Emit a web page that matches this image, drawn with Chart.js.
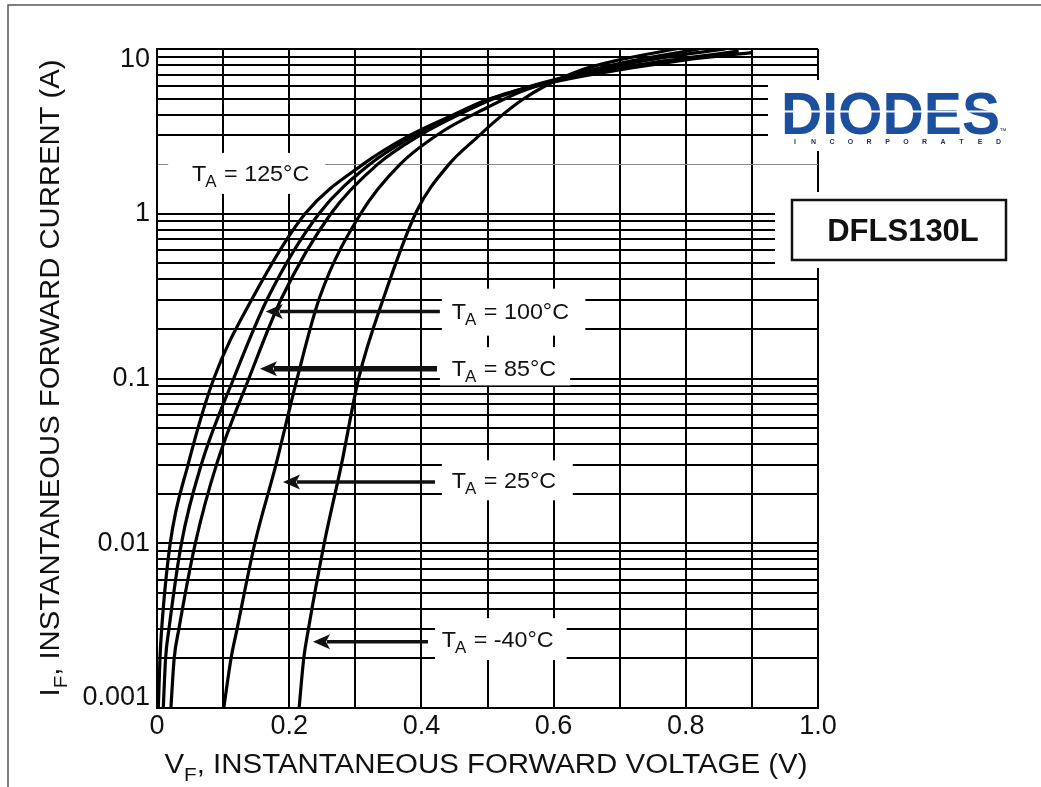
<!DOCTYPE html>
<html>
<head>
<meta charset="utf-8">
<script src="https://cdn.jsdelivr.net/npm/chart.js@4.4.1/dist/chart.umd.min.js"></script>
<style>
  html, body { margin: 0; padding: 0; background: #fff; }
</style>
</head>
<body>
<canvas id="fwdChart" width="1041" height="787"></canvas>
<script>
// forward voltage (V) and current (A)
const v125 = [0.002, 0.0045, 0.007, 0.020, 0.047, 0.086, 0.145, 0.224, 0.312, 0.383, 0.443, 0.499, 0.57, 0.65, 0.80, 0.90];
const i125 = [0.001, 0.002, 0.003, 0.01, 0.03, 0.1, 0.31, 1.0, 2.0, 3.0, 3.9, 4.9, 5.9, 6.9, 8.6, 9.5];

const v100 = [0.0095, 0.013, 0.018, 0.037, 0.067, 0.116, 0.168, 0.245, 0.322, 0.39, 0.451, 0.505, 0.575, 0.66, 0.78, 0.88];
const i100 = [0.001, 0.002, 0.003, 0.01, 0.03, 0.1, 0.31, 1.0, 2.0, 3.0, 4.0, 5.0, 6.05, 7.2, 8.6, 9.7];

const v85 = [0.021, 0.026, 0.033, 0.058, 0.090, 0.139, 0.189, 0.263, 0.334, 0.398, 0.457, 0.51, 0.575, 0.66, 0.76, 0.86];
const i85 = [0.001, 0.002, 0.003, 0.01, 0.03, 0.1, 0.31, 1.0, 2.0, 3.0, 4.0, 5.0, 6.1, 7.4, 8.8, 10.0];

const v25 = [0.101, 0.112, 0.121, 0.148, 0.18, 0.212, 0.246, 0.308, 0.368, 0.433, 0.499, 0.55, 0.62, 0.72, 0.82];
const i25 = [0.001, 0.002, 0.003, 0.01, 0.03, 0.1, 0.31, 1.0, 2.0, 3.18, 4.4, 5.5, 6.8, 8.5, 10.0];

const vM40 = [0.215, 0.222, 0.229, 0.253, 0.279, 0.305, 0.343, 0.393, 0.441, 0.484, 0.52, 0.552, 0.585, 0.64, 0.70, 0.79];
const iM40 = [0.001, 0.002, 0.003, 0.01, 0.03, 0.1, 0.31, 1.04, 1.98, 2.9, 3.9, 4.9, 5.9, 7.4, 8.6, 10.1];

const seriesNames = ['125°C', '100°C', '85°C', '25°C', '-40°C'];

const xTickLabels = ['0', '0.2', '0.4', '0.6', '0.8', '1.0'];
const yDecades = [0.001, 0.01, 0.1, 1, 10];
const yTickLabels = ['0.001', '0.01', '0.1', '1', '10'];

// log grid: 1..9 in every decade
const yGrid = [];
for (let d = 0; d < yDecades.length - 1; d++) {
    for (let m = 1; m < 10; m++) yGrid.push(+(yDecades[d] * m).toPrecision(3));
}
yGrid.push(10);

const FONT = '"Liberation Sans", Arial, Helvetica, sans-serif';

// label boxes and arrows, placed in data units (V, A)
const notes = [
    { name: seriesNames[0], v: 0.053, i: 1.585, box: [0.017, 0.254, 1.32, 2.34] },
    { name: seriesNames[1], v: 0.446, i: 0.231, box: [0.431, 0.648, 0.182, 0.351], arrow: [0.428, 0.1645, 0.2547], lw: 3.5 },
    { name: seriesNames[2], v: 0.446, i: 0.104, box: [0.428, 0.625, 0.0908, 0.155], arrow: [0.4236, 0.1558, 0.1146], lw: 5.5 },
    { name: seriesNames[3], v: 0.446, i: 0.02176, box: [0.431, 0.629, 0.01823, 0.03186], arrow: [0.4206, 0.1906, 0.02352], lw: 3.5 },
    { name: seriesNames[4], v: 0.4307, i: 0.002351, box: [0.4206, 0.6198, 0.001954, 0.00351], arrow: [0.41, 0.236, 0.002522], lw: 3.5 }
];

function pairUp(vs, is) {
    return vs.map((v, k) => ({ x: v, y: is[k] }));
}

function drawTA(ctx, x, y, rest, size) {
    ctx.save();
    ctx.translate(x, y);
    ctx.scale(1.06, 1);
    ctx.textAlign = 'left';
    ctx.textBaseline = 'alphabetic';
    ctx.font = size + 'px ' + FONT;
    ctx.fillText('T', 0, 0);
    let w = ctx.measureText('T').width;
    ctx.font = Math.round(size * 0.72) + 'px ' + FONT;
    ctx.fillText('A', w - 1, size * 0.3);
    w += ctx.measureText('A').width;
    ctx.font = size + 'px ' + FONT;
    ctx.fillText(rest, w, 0);
    ctx.restore();
}

function drawArrow(ctx, x0, x1, y, lw) {
    const head = 17, half = 7.5;
    ctx.lineWidth = lw;
    ctx.beginPath();
    ctx.moveTo(x0, y);
    ctx.lineTo(x1 + head - 3, y);
    ctx.stroke();
    ctx.beginPath();
    ctx.moveTo(x1, y);
    ctx.lineTo(x1 + head, y - half);
    ctx.lineTo(x1 + head - 4, y);
    ctx.lineTo(x1 + head, y + half);
    ctx.closePath();
    ctx.fill();
}

// axis title with a subscript after the first letter, centred on (0,0), stretched to a width
function drawSubTitle(ctx, first, sub, rest, size, width) {
    const subSize = Math.round(size * 0.72);
    ctx.font = size + 'px ' + FONT;
    const w1 = ctx.measureText(first).width;
    const w3 = ctx.measureText(rest).width;
    ctx.font = subSize + 'px ' + FONT;
    const w2 = ctx.measureText(sub).width;
    const total = w1 + w2 + w3;
    ctx.scale(width / total, 1);
    const x = -total / 2;
    ctx.textAlign = 'left';
    ctx.textBaseline = 'alphabetic';
    ctx.font = size + 'px ' + FONT;
    ctx.fillText(first, x, 0);
    ctx.font = subSize + 'px ' + FONT;
    ctx.fillText(sub, x + w1, size * 0.3);
    ctx.font = size + 'px ' + FONT;
    ctx.fillText(rest, x + w1 + w2, 0);
}

const decorPlugin = {
    id: 'decor',
    beforeDatasetsDraw(chart) {
        const ctx = chart.ctx;
        const xs = chart.scales.x, ys = chart.scales.y;
        ctx.save();
        ctx.fillStyle = '#fff';
        notes.forEach(n => {
            const x0 = xs.getPixelForValue(n.box[0]), x1 = xs.getPixelForValue(n.box[1]);
            const y0 = ys.getPixelForValue(n.box[3]), y1 = ys.getPixelForValue(n.box[2]);
            ctx.fillRect(x0, y0, x1 - x0, y1 - y0);
        });
        // blank areas behind the logo and the part number
        ctx.fillRect(768, 80, 245, 71);
        ctx.fillRect(775, 192, 240, 76);
        ctx.restore();
    },
    afterDatasetsDraw(chart) {
        const ctx = chart.ctx;
        const xs = chart.scales.x, ys = chart.scales.y;
        ctx.save();
        ctx.fillStyle = '#111';
        ctx.strokeStyle = '#111';
        notes.forEach(n => {
            drawTA(ctx, xs.getPixelForValue(n.v), ys.getPixelForValue(n.i), ' = ' + n.name, 22);
            if (n.arrow) {
                drawArrow(ctx, xs.getPixelForValue(n.arrow[0]), xs.getPixelForValue(n.arrow[1]),
                    ys.getPixelForValue(n.arrow[2]), n.lw);
            }
        });

        // axis titles
        ctx.save();
        ctx.translate(486, 773);
        drawSubTitle(ctx, 'V', 'F', ', INSTANTANEOUS FORWARD VOLTAGE (V)', 27, 643);
        ctx.restore();
        ctx.save();
        ctx.translate(59, 378);
        ctx.rotate(-Math.PI / 2);
        drawSubTitle(ctx, 'I', 'F', ', INSTANTANEOUS FORWARD CURRENT (A)', 27, 637);
        ctx.restore();

        // logo
        ctx.fillStyle = '#1c4f9e';
        ctx.font = 'bold 60px ' + FONT;
        ctx.textAlign = 'left';
        ctx.textBaseline = 'alphabetic';
        const lw = ctx.measureText('DIODES').width;
        ctx.save();
        ctx.translate(781, 134);
        ctx.scale(219 / lw, 1);
        ctx.fillText('DIODES', 0, 0);
        ctx.restore();
        ctx.fillStyle = '#fff';
        ctx.fillRect(781, 110.5, 220, 2);
        ctx.fillStyle = '#1c2d5a';
        ctx.font = 'bold 7px ' + FONT;
        ctx.textAlign = 'center';
        'INCORPORATED'.split('').forEach((ch, k) => ctx.fillText(ch, 795 + k * 18.5, 144));
        ctx.font = '7px ' + FONT;
        ctx.fillText('\u2122', 1003, 133);

        // part number box
        ctx.strokeStyle = '#111';
        ctx.lineWidth = 2.5;
        ctx.strokeRect(792, 200, 214, 60);
        ctx.fillStyle = '#111';
        ctx.font = 'bold 31px ' + FONT;
        ctx.textAlign = 'center';
        ctx.textBaseline = 'alphabetic';
        ctx.fillText('DFLS130L', 903, 241);

        // outer frame
        ctx.strokeStyle = '#555';
        ctx.lineWidth = 1.5;
        ctx.beginPath();
        ctx.moveTo(8, 787);
        ctx.lineTo(8, 5);
        ctx.lineTo(1041, 5);
        ctx.stroke();
        ctx.restore();
    }
};

const curveStyle = {
    borderColor: '#000',
    borderWidth: 3.2,
    pointRadius: 0,
    fill: false,
    cubicInterpolationMode: 'monotone'
};

const datasets = [
    [v125, i125], [v100, i100], [v85, i85], [v25, i25], [vM40, iM40]
].map((s, k) => Object.assign({ label: 'TA = ' + seriesNames[k], data: pairUp(s[0], s[1]) }, curveStyle));

new Chart(document.getElementById('fwdChart'), {
    type: 'line',
    data: { datasets },
    options: {
        responsive: false,
        animation: false,
        devicePixelRatio: 1,
        layout: { padding: { top: 49, right: 223, left: 0, bottom: 0 } },
        plugins: { legend: { display: false }, tooltip: { enabled: false } },
        scales: {
            x: {
                type: 'linear',
                min: 0,
                max: 1,
                afterFit: s => { s.height = 79; },
                ticks: {
                    stepSize: 0.1,
                    autoSkip: false,
                    maxRotation: 0,
                    padding: 2,
                    color: '#111',
                    font: { family: FONT, size: 27 },
                    callback: value => {
                        const k = Math.round(value * 10);
                        return k % 2 ? '' : xTickLabels[k / 2];
                    }
                },
                grid: { color: '#000', lineWidth: 2, drawTicks: false },
                border: { color: '#000', width: 2 }
            },
            y: {
                type: 'logarithmic',
                min: 0.001,
                max: 10,
                afterFit: s => { s.width = 157; },
                afterBuildTicks: s => { s.ticks = yGrid.map(v => ({ value: v })); },
                ticks: {
                    autoSkip: false,
                    padding: 7,
                    color: '#111',
                    font: { family: FONT, size: 27, lineHeight: 0.75 },
                    callback: value => {
                        const k = yDecades.indexOf(value);
                        if (k < 0) return '';
                        if (k === 0) return [yTickLabels[k], ''];
                        if (k === yDecades.length - 1) return ['', yTickLabels[k]];
                        return yTickLabels[k];
                    }
                },
                grid: {
                    drawTicks: false,
                    color: ctx => (ctx.tick && ctx.tick.value === 2 ? '#8a8a8a' : '#000'),
                    lineWidth: ctx => (ctx.tick && ctx.tick.value === 2 ? 1 : 2)
                },
                border: { color: '#000', width: 2 }
            }
        }
    },
    plugins: [decorPlugin]
});
</script>
</body>
</html>
